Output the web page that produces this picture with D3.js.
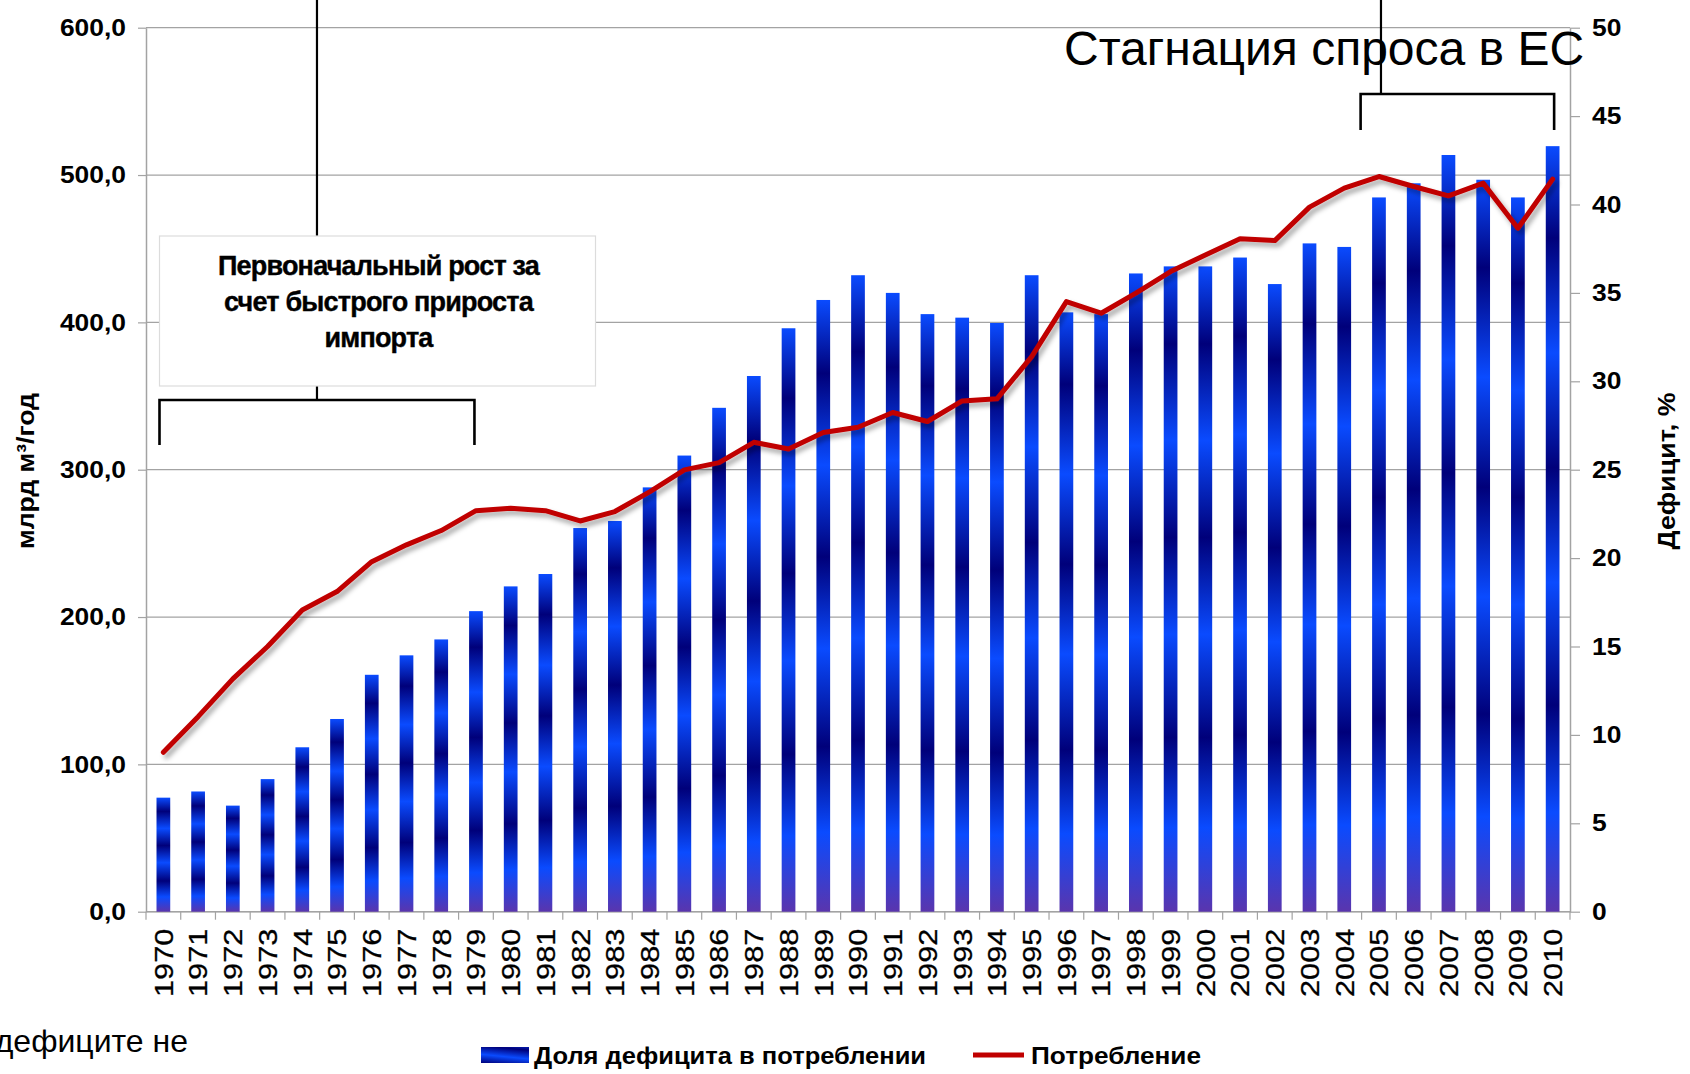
<!DOCTYPE html>
<html>
<head>
<meta charset="utf-8">
<script src="https://cdn.jsdelivr.net/npm/d3@7"></script>
<style>
body { margin: 0; background: #fff; }
svg { display: block; font-family: "Liberation Sans", Arial, sans-serif; }
</style>
</head>
<body>
<svg id="chart" width="1690" height="1074"></svg>
<script>
// --- data ---
var years = ["1970","1971","1972","1973","1974","1975","1976","1977","1978","1979",
	"1980","1981","1982","1983","1984","1985","1986","1987","1988","1989",
	"1990","1991","1992","1993","1994","1995","1996","1997","1998","1999",
	"2000","2001","2002","2003","2004","2005","2006","2007","2008","2009","2010"];

// Доля дефицита в потреблении, % (right axis, bars)
var deficitShare = [6.45, 6.8, 6.0, 7.5, 9.3, 10.9, 13.4, 14.5, 15.4, 17.0,
	18.4, 19.1, 21.7, 22.1, 24.0, 25.8, 28.5, 30.3, 33.0, 34.6,
	36.0, 35.0, 33.8, 33.6, 33.3, 36.0, 33.9, 33.8, 36.1, 36.5,
	36.5, 37.0, 35.5, 37.8, 37.6, 40.4, 41.2, 42.8, 41.4, 40.4, 43.3];

// Потребление, млрд м3/год (left axis, line)
var consumption = [108.2, 132.4, 158, 180, 204.8, 217.3, 237.6, 249, 258.7, 272.2,
	273.9, 272.2, 265.2, 271.6, 285, 299.9, 304.8, 318.6, 314.1, 325.2,
	328.8, 338.8, 332.7, 346.7, 348.1, 376.8, 414.1, 406.2, 419.8, 434.5,
	445.8, 456.7, 455.5, 478.2, 491.1, 499, 492.2, 485.9, 494.5, 463.9, 497.2];

var leftTicks = [0, 100, 200, 300, 400, 500, 600];
var rightTicks = [0, 5, 10, 15, 20, 25, 30, 35, 40, 45, 50];

var leftTitle = "млрд м³/год";
var rightTitle = "Дефицит, %";
var legendLabels = ["Доля дефицита в потреблении", "Потребление"];
var noteImport = ["Первоначальный рост за", "счет быстрого прироста", "импорта"];
var noteStagnation = "Стагнация спроса в ЕС";
var footnote = "дефиците не";

// --- layout ---
var plotL = 146, plotR = 1570, plotT = 27.7, plotB = 911.7;

var svg = d3.select("#chart");
var defs = svg.append("defs");

var x = d3.scaleBand().domain(years).range([plotL, plotR]).padding(0);
var step = x.step();
var barW = step * 0.395;
var yL = d3.scaleLinear().domain([0, 600]).range([plotB, plotT]);
var yR = d3.scaleLinear().domain([0, 50]).range([plotB, plotT]);

function xc(d) { return x(d) + step / 2 }

// stretch text horizontally (the source picture is a bit wide)
function stretch(sel, k) {
	sel.each(function() {
		var w = this.getComputedTextLength();
		d3.select(this).attr("textLength", w * k).attr("lengthAdjust", "spacingAndGlyphs");
	})
}

// bar gradient: horizontal stripes, purple foot
var bright = "#0a4bff", dark = "#00007a", purple = "#5a35ad";
var barGrad = defs.append("linearGradient").attr("id", "barGrad")
	.attr("x1", 0).attr("y1", 0).attr("x2", 0).attr("y2", 1);
[[0, bright], [0.12, dark], [0.27, bright], [0.42, dark], [0.57, bright],
 [0.73, dark], [0.87, bright], [1, purple]].forEach(function(s) {
	barGrad.append("stop").attr("offset", s[0]).attr("stop-color", s[1]);
});

var legGrad = defs.append("linearGradient").attr("id", "legGrad")
	.attr("x1", 0).attr("y1", 1).attr("x2", 0.3).attr("y2", 0).attr("spreadMethod", "repeat");
[[0, dark], [0.5, bright], [1, dark]].forEach(function(s) {
	legGrad.append("stop").attr("offset", s[0]).attr("stop-color", s[1]);
});

var shadow = defs.append("filter").attr("id", "shadow")
	.attr("x", "-5%").attr("y", "-5%").attr("width", "110%").attr("height", "120%");
shadow.append("feDropShadow").attr("dx", 3).attr("dy", 4).attr("stdDeviation", 2.5)
	.attr("flood-color", "#000").attr("flood-opacity", 0.35);

// gridlines
svg.append("g").selectAll("line").data(leftTicks).join("line")
	.attr("x1", plotL).attr("x2", plotR)
	.attr("y1", function(d) { return yL(d) }).attr("y2", function(d) { return yL(d) })
	.attr("stroke", "#a3a3a3").attr("stroke-width", 1.2);

// left axis
var fmt = function(d) { return d3.format(".1f")(d).replace(".", ",") };
var gL = svg.append("g").attr("transform", "translate(" + plotL + ",0)")
	.call(d3.axisLeft(yL).tickValues(leftTicks).tickSize(8).tickSizeOuter(0).tickPadding(12).tickFormat(fmt));
gL.select(".domain").attr("stroke", "#a3a3a3").attr("stroke-width", 1.5);
gL.selectAll(".tick line").attr("stroke", "#a3a3a3").attr("stroke-width", 1.2);
gL.selectAll(".tick text").attr("font-size", 24).attr("font-weight", "bold").attr("fill", "#000")
	.attr("font-family", "'Liberation Sans', Arial, sans-serif").call(stretch, 1.1);

// right axis
var gR = svg.append("g").attr("transform", "translate(" + plotR + ",0)")
	.call(d3.axisRight(yR).tickValues(rightTicks).tickSize(10).tickSizeOuter(0).tickPadding(12));
gR.select(".domain").attr("stroke", "#a3a3a3").attr("stroke-width", 1.5);
gR.selectAll(".tick line").attr("stroke", "#a3a3a3").attr("stroke-width", 1.2);
gR.selectAll(".tick text").attr("font-size", 24).attr("font-weight", "bold").attr("fill", "#000")
	.attr("font-family", "'Liberation Sans', Arial, sans-serif").call(stretch, 1.1);

// bottom axis: line, boundary ticks, rotated year labels
svg.append("line").attr("x1", plotL).attr("x2", plotR).attr("y1", plotB).attr("y2", plotB)
	.attr("stroke", "#a3a3a3").attr("stroke-width", 1.5);
svg.append("g").selectAll("line").data(years.map(function(d) { return x(d) }).concat([plotR])).join("line")
	.attr("x1", function(d) { return d }).attr("x2", function(d) { return d })
	.attr("y1", plotB).attr("y2", plotB + 8)
	.attr("stroke", "#a3a3a3").attr("stroke-width", 1.2);
svg.append("g").selectAll("text").data(years).join("text")
	.attr("transform", function(d) { return "translate(" + xc(d) + "," + (plotB + 17) + ") rotate(-90)" })
	.attr("text-anchor", "end").attr("dy", "0.36em")
	.attr("font-size", 26).attr("fill", "#000")
	.attr("stroke", "#000").attr("stroke-width", 0.3)
	.text(function(d) { return d })
	.call(stretch, 1.18);

// bars
svg.append("g").selectAll("rect").data(deficitShare).join("rect")
	.attr("x", function(d, i) { return xc(years[i]) - barW / 2 })
	.attr("y", function(d) { return yR(d) })
	.attr("width", barW)
	.attr("height", function(d) { return plotB - yR(d) })
	.attr("fill", "url(#barGrad)");

// consumption line
var line = d3.line()
	.x(function(d, i) { return xc(years[i]) })
	.y(function(d) { return yL(d) });
svg.append("path").datum(consumption)
	.attr("d", line)
	.attr("fill", "none").attr("stroke", "#c00000").attr("stroke-width", 5)
	.attr("stroke-linejoin", "round").attr("stroke-linecap", "round")
	.attr("filter", "url(#shadow)");

// axis titles
svg.append("text").attr("transform", "translate(26,471) rotate(-90)")
	.attr("text-anchor", "middle").attr("dy", "0.35em")
	.attr("font-size", 24).attr("font-weight", "bold").text(leftTitle)
	.attr("textLength", 156).attr("lengthAdjust", "spacingAndGlyphs");
svg.append("text").attr("transform", "translate(1667,471) rotate(-90)")
	.attr("text-anchor", "middle").attr("dy", "0.35em")
	.attr("font-size", 24).attr("font-weight", "bold").text(rightTitle)
	.attr("textLength", 157).attr("lengthAdjust", "spacingAndGlyphs");

// annotation: initial growth (1970-1979)
var ann = svg.append("g").attr("stroke", "#000").attr("stroke-width", 2.2).attr("fill", "none");
var bx1 = x("1970") + 13.5, bx2 = xc("1979") - 1.5, bmid = (bx1 + bx2) / 2;
var boxX = bx1, boxY = 236, boxW = 436, boxH = 150;
ann.append("line").attr("x1", bmid).attr("x2", bmid).attr("y1", 0).attr("y2", boxY);
ann.append("line").attr("x1", bmid).attr("x2", bmid).attr("y1", boxY + boxH).attr("y2", 400);
ann.append("path").attr("d", "M" + bx1 + ",445V400H" + bx2 + "V445").attr("stroke-width", 2.6);
svg.append("rect").attr("x", boxX).attr("y", boxY).attr("width", boxW).attr("height", boxH)
	.attr("fill", "#fff").attr("stroke", "#dcdcdc").attr("stroke-width", 1.2);
svg.append("g").selectAll("text").data(noteImport).join("text")
	.attr("x", boxX + 219).attr("y", function(d, i) { return 275 + i * 36 })
	.attr("text-anchor", "middle").attr("font-size", 27).attr("font-weight", "bold")
	.attr("letter-spacing", -0.8).attr("stroke", "#000").attr("stroke-width", 0.4)
	.text(function(d) { return d });

// annotation: stagnation (2005-2010)
svg.append("text").attr("x", 1064).attr("y", 65).attr("font-size", 48).text(noteStagnation);
var sx1 = x("2005") - 1, sx2 = xc("2010") + 1.5, sstem = xc("2005") + 2;
var ann2 = svg.append("g").attr("stroke", "#000").attr("stroke-width", 2.2).attr("fill", "none");
ann2.append("line").attr("x1", sstem).attr("x2", sstem).attr("y1", 0).attr("y2", 94);
ann2.append("path").attr("d", "M" + sx1 + ",130V94H" + sx2 + "V130").attr("stroke-width", 2.6);

// footnote fragment (cut at the left edge, as in the source)
svg.append("text").attr("x", 188).attr("y", 1052).attr("text-anchor", "end")
	.attr("font-size", 32).text(footnote);

// legend
var leg = svg.append("g");
leg.append("rect").attr("x", 481).attr("y", 1047).attr("width", 48).attr("height", 16)
	.attr("fill", "url(#legGrad)");
leg.append("text").attr("x", 534).attr("y", 1064).attr("font-size", 24).attr("font-weight", "bold")
	.text(legendLabels[0]).attr("textLength", 392).attr("lengthAdjust", "spacingAndGlyphs");
leg.append("line").attr("x1", 973).attr("x2", 1024).attr("y1", 1055).attr("y2", 1055)
	.attr("stroke", "#c00000").attr("stroke-width", 5);
leg.append("text").attr("x", 1031).attr("y", 1064).attr("font-size", 24).attr("font-weight", "bold")
	.text(legendLabels[1]).attr("textLength", 170).attr("lengthAdjust", "spacingAndGlyphs");
</script>
</body>
</html>
